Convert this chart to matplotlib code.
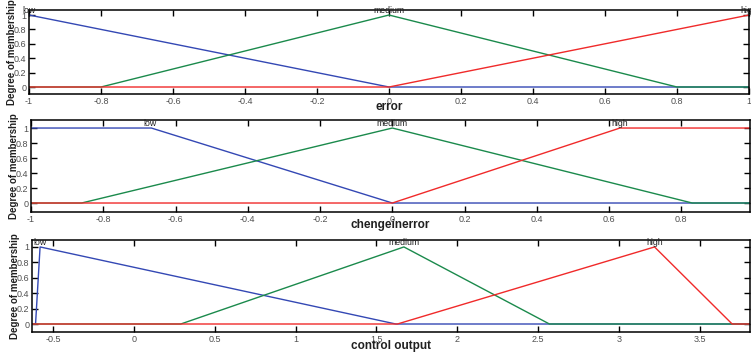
import matplotlib.pyplot as plt

plt.rcParams['font.family'] = ['Liberation Sans', 'DejaVu Sans']

# membership functions: breakpoints (x) and degree of membership (y)
err_low_x = [-1, 0, 1]
err_low_y = [1, 0, 0]
err_med_x = [-1, -0.8, 0, 0.8, 1]
err_med_y = [0, 0, 1, 0, 0]
err_high_x = [-1, 0, 1]
err_high_y = [0, 0, 1]

dce_low_x = [-1, -0.667, 0, 1]
dce_low_y = [1, 1, 0, 0]
dce_med_x = [-1, -0.86, 0, 0.83, 1]
dce_med_y = [0, 0, 1, 0, 0]
dce_high_x = [-1, 0, 0.63, 1]
dce_high_y = [0, 0, 1, 1]

out_low_x = [-0.63, -0.608, -0.58, 1.62, 3.81]
out_low_y = [0, 0, 1, 0, 0]
out_med_x = [-0.63, 0.29, 1.67, 2.57, 3.81]
out_med_y = [0, 0, 1, 0, 0]
out_high_x = [-0.63, 1.63, 3.22, 3.70, 3.81]
out_high_y = [0, 0, 1, 0, 0]

mf_names = ['low', 'medium', 'high']
err_label_x = [-1, 0, 1]
dce_label_x = [-0.67, 0, 0.63]
out_label_x = [-0.58, 1.67, 3.22]

err_ticks = [-1, -0.8, -0.6, -0.4, -0.2, 0, 0.2, 0.4, 0.6, 0.8, 1]
dce_ticks = [-1, -0.8, -0.6, -0.4, -0.2, 0, 0.2, 0.4, 0.6, 0.8]
out_ticks = [-0.5, 0, 0.5, 1, 1.5, 2, 2.5, 3, 3.5]
y_ticks = [0, 0.2, 0.4, 0.6, 0.8, 1]

colors = ['#3448b4', '#1b8a4c', '#f02a2a']

fig = plt.figure(figsize=(7.51, 3.54), dpi=100)

panels = [
    dict(rect=[0.0386, 0.7345, 0.9587, 0.2373], xlim=(-1, 1), ylim=(-0.097, 1.07),
         curves=[(err_low_x, err_low_y), (err_med_x, err_med_y), (err_high_x, err_high_y)],
         labels_x=err_label_x, ticks=err_ticks, xlabel='error', xl_y=-0.16),
    dict(rect=[0.0413, 0.4011, 0.9574, 0.2599], xlim=(-1, 0.99), ylim=(-0.12, 1.107),
         curves=[(dce_low_x, dce_low_y), (dce_med_x, dce_med_y), (dce_high_x, dce_high_y)],
         labels_x=dce_label_x, ticks=dce_ticks, xlabel='chengeinerror', xl_y=-0.145),
    dict(rect=[0.0426, 0.0621, 0.956, 0.2599], xlim=(-0.63, 3.81), ylim=(-0.104, 1.09),
         curves=[(out_low_x, out_low_y), (out_med_x, out_med_y), (out_high_x, out_high_y)],
         labels_x=out_label_x, ticks=out_ticks, xlabel='control output', xl_y=-0.155),
]

for p in panels:
    ax = fig.add_axes(p['rect'])
    for (xs, ys), c in zip(p['curves'], colors):
        ax.plot(xs, ys, color=c, lw=1.0)
    for name, lx in zip(mf_names, p['labels_x']):
        ax.text(lx, 1.0, name, ha='center', va='bottom', fontsize=6.3,
                color='#202020', clip_on=False)
    ax.set_xlim(*p['xlim'])
    ax.set_ylim(*p['ylim'])
    ax.set_xticks(p['ticks'])
    ax.set_xticklabels([f'{t:g}' for t in p['ticks']])
    ax.set_yticks(y_ticks)
    ax.set_yticklabels([f'{t:g}' for t in y_ticks])
    ax.tick_params(direction='in', length=4, width=1, top=True, right=True,
                   labelsize=6.5, labelcolor='#505050', pad=2)
    for s in ax.spines.values():
        s.set_linewidth(1.1)
    ax.set_xlabel(p['xlabel'], fontsize=8.5, fontweight='bold', color='#202020')
    ax.xaxis.set_label_coords(0.5, p['xl_y'])
    ax.xaxis.label.set_va('center')
    ax.set_ylabel('Degree of membership', fontsize=7, fontweight='bold', color='#202020')
    ax.yaxis.set_label_coords(-0.023, 0.5)
    ax.yaxis.label.set_va('center')

fig.savefig('out.png', dpi=100)
